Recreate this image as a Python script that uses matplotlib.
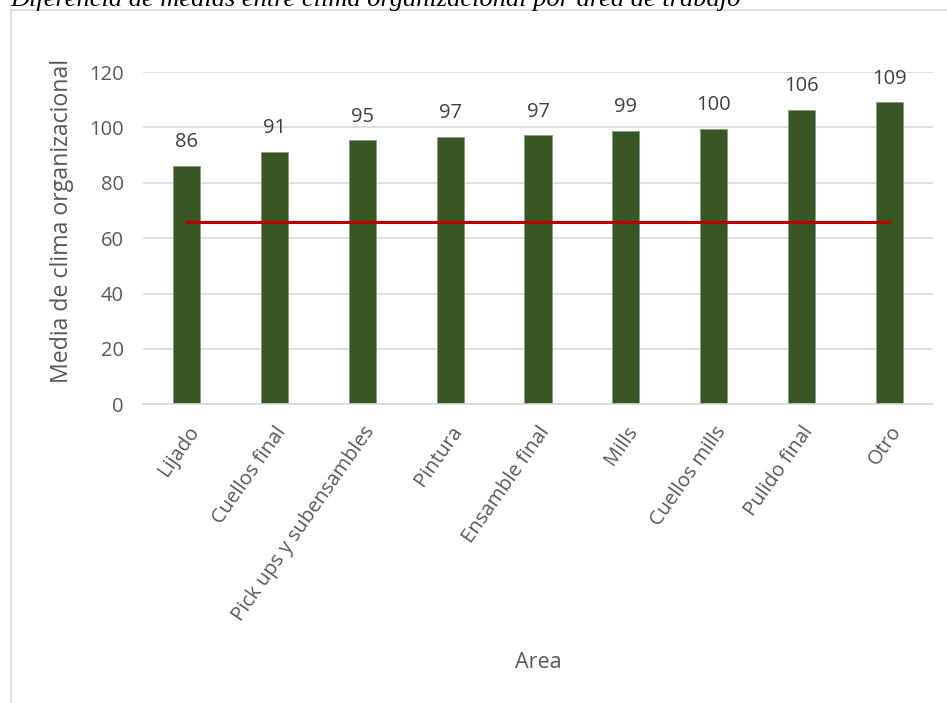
import matplotlib
matplotlib.use('Agg')
import matplotlib.pyplot as plt
from matplotlib.lines import Line2D

areas = ['Lijado', 'Cuellos final', 'Pick ups y subensambles', 'Pintura',
         'Ensamble final', 'Mills', 'Cuellos mills', 'Pulido final', 'Otro']
medias = [86.2, 91.2, 95.3, 96.5, 97.1, 98.8, 99.6, 106.4, 109.0]
etiquetas = [86, 91, 95, 97, 97, 99, 100, 106, 109]
referencia = [65.9] * len(areas)
yticks = [0, 20, 40, 60, 80, 100, 120]

W, H = 947, 703
fig = plt.figure(figsize=(W / 100, H / 100), dpi=100)
plt.rcParams['font.family'] = ['Open Sans', 'DejaVu Sans']

# chart frame, cut off at right and bottom
fig.add_artist(Line2D([11 / W, 11 / W], [0, 1 - 10 / H], transform=fig.transFigure,
                      color='#d9d9d9', lw=1.2))
fig.add_artist(Line2D([11 / W, 1], [1 - 10 / H, 1 - 10 / H], transform=fig.transFigure,
                      color='#d9d9d9', lw=1.2))

fig.text(10 / W, 1 - 6 / H,
         'Diferencia de medias entre clima organizacional por área de trabajo',
         family='Liberation Serif', style='italic', fontsize=19,
         va='baseline', ha='left', color='black')

ax = fig.add_axes([143 / W, 1 - 404.4 / H, 790 / W, 332.4 / H])
x = list(range(len(areas)))
ax.bar(x, medias, width=0.31, color='#375623', edgecolor='#8a9a80', linewidth=0.6, zorder=2)
ax.plot(x, referencia, color='#c00000', lw=2.2, zorder=3)

for xi, v, lab in zip(x, medias, etiquetas):
    ax.annotate(str(lab), (xi, v), xytext=(0, 10), textcoords='offset points',
                ha='center', va='bottom', fontsize=14.5, color='#404040')

ax.set_xlim(-0.5, len(areas) - 0.5)
ax.set_ylim(0, 120)
ax.set_yticks(yticks)
ax.yaxis.grid(True, color='#d9d9d9', lw=1.2, zorder=0)
ax.set_axisbelow(True)
for s in ['top', 'right', 'left']:
    ax.spines[s].set_visible(False)
ax.spines['bottom'].set_color('#d9d9d9')
ax.spines['bottom'].set_linewidth(1.2)
ax.tick_params(axis='both', length=0, labelsize=14.5, labelcolor='#595959')
ax.tick_params(axis='y', pad=14)
ax.set_xticks(x)
ax.set_xticklabels(areas, rotation=55, ha='right', va='top', rotation_mode='anchor')
ax.tick_params(axis='x', pad=13)

ax.set_ylabel('Media de clima organizacional', fontsize=16.7, color='#595959')
ax.yaxis.set_label_coords(-(143 - 62) / 790, (404.4 - 220.5) / 332.4)
ax.yaxis.label.set_va('center')
ax.set_xlabel('Area', fontsize=15.5, color='#595959')
ax.xaxis.set_label_coords(0.5, -(662 - 404.4) / 332.4)
ax.xaxis.label.set_va('center')

fig.savefig('out.png', dpi=100)
